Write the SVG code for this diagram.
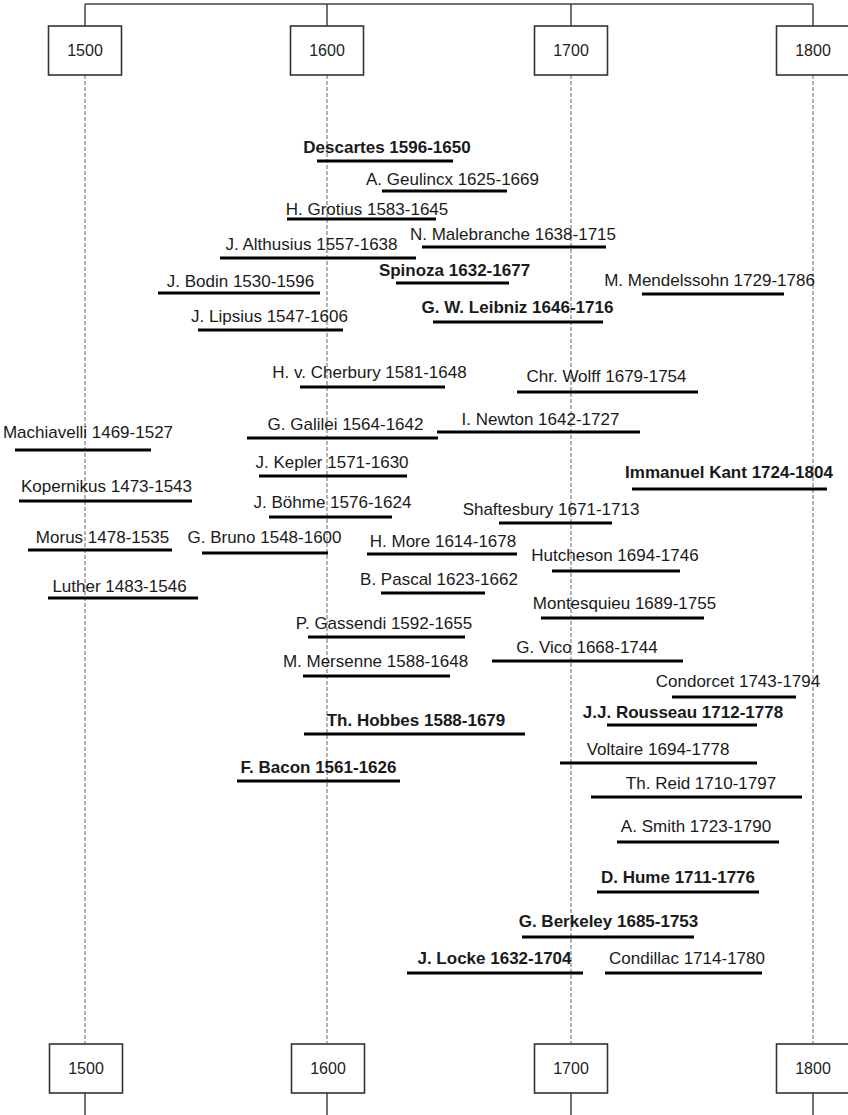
<svg xmlns="http://www.w3.org/2000/svg" width="848" height="1115" viewBox="0 0 848 1115">
<style>
.axis{stroke:#444;stroke-width:1.5;fill:none}
.dash{stroke:#666;stroke-width:1;stroke-dasharray:4,2;fill:none}
.box{fill:#fff;stroke:#333;stroke-width:1.6}
.yr{font-family:"Liberation Sans",Arial,sans-serif;font-size:16px;fill:#222;text-anchor:middle}
.bar{stroke:#000;stroke-width:3}
.lb{font-family:"Liberation Sans",Arial,sans-serif;font-size:17px;fill:#1a1a1a;text-anchor:middle}
.b{font-weight:bold}
</style>
<rect width="848" height="1115" fill="#fff"/>
<g id="connectors">
<path class="axis" d="M85,4H813M85,4V26M327,4V26M571,4V26M813,4V26"/>
<path class="dash" d="M85,75V1044M327,75V1044M571,75V1044M813,75V1044"/>
<path class="axis" d="M85,1093V1115M327,1093V1115M571,1093V1115M813,1093V1115"/>
</g>
<g id="y1500top"><rect class="box" x="48.5" y="26" width="73" height="49"/><text class="yr" x="85" y="56">1500</text></g>
<g id="y1600top"><rect class="box" x="290.5" y="26" width="73" height="49"/><text class="yr" x="327" y="56">1600</text></g>
<g id="y1700top"><rect class="box" x="534.5" y="26" width="73" height="49"/><text class="yr" x="571" y="56">1700</text></g>
<g id="y1800top"><rect class="box" x="776.5" y="26" width="73" height="49"/><text class="yr" x="813" y="56">1800</text></g>
<g id="y1500bot"><rect class="box" x="49.5" y="1044" width="73" height="49"/><text class="yr" x="86" y="1074">1500</text></g>
<g id="y1600bot"><rect class="box" x="291.5" y="1044" width="73" height="49"/><text class="yr" x="328" y="1074">1600</text></g>
<g id="y1700bot"><rect class="box" x="534.5" y="1044" width="73" height="49"/><text class="yr" x="571" y="1074">1700</text></g>
<g id="y1800bot"><rect class="box" x="776.5" y="1044" width="73" height="49"/><text class="yr" x="813" y="1074">1800</text></g>

<g id="descartes"><line class="bar" x1="317" y1="161" x2="453" y2="161"/><text class="lb b" x="387" y="153">Descartes 1596-1650</text></g>
<g id="geulincx"><line class="bar" x1="382" y1="191" x2="507" y2="191"/><text class="lb" x="452.5" y="185">A. Geulincx 1625-1669</text></g>
<g id="grotius"><line class="bar" x1="287" y1="219" x2="436" y2="219"/><text class="lb" x="367" y="215">H. Grotius 1583-1645</text></g>
<g id="malebranche"><line class="bar" x1="422" y1="247" x2="606" y2="247"/><text class="lb" x="513" y="240">N. Malebranche 1638-1715</text></g>
<g id="althusius"><line class="bar" x1="220" y1="258" x2="416" y2="258"/><text class="lb" x="311.5" y="250">J. Althusius 1557-1638</text></g>
<g id="spinoza"><line class="bar" x1="396" y1="283" x2="509" y2="283"/><text class="lb b" x="454.5" y="276">Spinoza 1632-1677</text></g>
<g id="mendelssohn"><line class="bar" x1="642" y1="294" x2="784" y2="294"/><text class="lb" x="709.5" y="286">M. Mendelssohn 1729-1786</text></g>
<g id="bodin"><line class="bar" x1="158" y1="293" x2="320" y2="293"/><text class="lb" x="240.5" y="287">J. Bodin 1530-1596</text></g>
<g id="leibniz"><line class="bar" x1="433" y1="322" x2="603" y2="322"/><text class="lb b" x="517.5" y="313">G. W. Leibniz 1646-1716</text></g>
<g id="lipsius"><line class="bar" x1="198" y1="330" x2="343" y2="330"/><text class="lb" x="269.5" y="322">J. Lipsius 1547-1606</text></g>
<g id="cherbury"><line class="bar" x1="300" y1="387" x2="445" y2="387"/><text class="lb" x="369.5" y="378">H. v. Cherbury 1581-1648</text></g>
<g id="wolff"><line class="bar" x1="517" y1="392" x2="698" y2="392"/><text class="lb" x="606.5" y="382">Chr. Wolff 1679-1754</text></g>
<g id="machiavelli"><line class="bar" x1="15" y1="450" x2="151" y2="450"/><text class="lb" x="88" y="438">Machiavelli 1469-1527</text></g>
<g id="galilei"><line class="bar" x1="247" y1="438" x2="438" y2="438"/><text class="lb" x="345.5" y="430">G. Galilei 1564-1642</text></g>
<g id="newton"><line class="bar" x1="437" y1="432" x2="640" y2="432"/><text class="lb" x="540.5" y="425">I. Newton 1642-1727</text></g>
<g id="kepler"><line class="bar" x1="259" y1="476" x2="407" y2="476"/><text class="lb" x="332" y="468">J. Kepler 1571-1630</text></g>
<g id="kant"><line class="bar" x1="632" y1="489" x2="827" y2="489"/><text class="lb b" x="729" y="478">Immanuel Kant 1724-1804</text></g>
<g id="kopernikus"><line class="bar" x1="19" y1="501" x2="192" y2="501"/><text class="lb" x="106.5" y="492">Kopernikus 1473-1543</text></g>
<g id="boehme"><line class="bar" x1="269" y1="517" x2="392" y2="517"/><text class="lb" x="332.5" y="508">J. Böhme 1576-1624</text></g>
<g id="shaftesbury"><line class="bar" x1="499" y1="523" x2="612" y2="523"/><text class="lb" x="551" y="515">Shaftesbury 1671-1713</text></g>
<g id="morus"><line class="bar" x1="28" y1="550" x2="172" y2="550"/><text class="lb" x="102.5" y="543">Morus 1478-1535</text></g>
<g id="bruno"><line class="bar" x1="202" y1="553" x2="328" y2="553"/><text class="lb" x="264.5" y="543">G. Bruno 1548-1600</text></g>
<g id="more"><line class="bar" x1="367" y1="554" x2="517" y2="554"/><text class="lb" x="443" y="547">H. More 1614-1678</text></g>
<g id="hutcheson"><line class="bar" x1="552" y1="571" x2="680" y2="571"/><text class="lb" x="615" y="561">Hutcheson 1694-1746</text></g>
<g id="luther"><line class="bar" x1="48" y1="598" x2="198" y2="598"/><text class="lb" x="119.5" y="592">Luther 1483-1546</text></g>
<g id="pascal"><line class="bar" x1="381" y1="593" x2="485" y2="593"/><text class="lb" x="439" y="585">B. Pascal 1623-1662</text></g>
<g id="montesquieu"><line class="bar" x1="541" y1="618" x2="704" y2="618"/><text class="lb" x="624.5" y="609">Montesquieu 1689-1755</text></g>
<g id="gassendi"><line class="bar" x1="308" y1="637" x2="465" y2="637"/><text class="lb" x="384" y="629">P. Gassendi 1592-1655</text></g>
<g id="vico"><line class="bar" x1="492" y1="661" x2="683" y2="661"/><text class="lb" x="587" y="653">G. Vico 1668-1744</text></g>
<g id="mersenne"><line class="bar" x1="303" y1="676" x2="450" y2="676"/><text class="lb" x="375.5" y="667">M. Mersenne 1588-1648</text></g>
<g id="condorcet"><line class="bar" x1="672" y1="697" x2="796" y2="697"/><text class="lb" x="738" y="687">Condorcet 1743-1794</text></g>
<g id="rousseau"><line class="bar" x1="607" y1="725" x2="757" y2="725"/><text class="lb b" x="683" y="718">J.J. Rousseau 1712-1778</text></g>
<g id="hobbes"><line class="bar" x1="304" y1="734" x2="525" y2="734"/><text class="lb b" x="416" y="726">Th. Hobbes 1588-1679</text></g>
<g id="voltaire"><line class="bar" x1="560" y1="763" x2="757" y2="763"/><text class="lb" x="658" y="755">Voltaire 1694-1778</text></g>
<g id="bacon"><line class="bar" x1="237" y1="781" x2="400" y2="781"/><text class="lb b" x="318.5" y="773">F. Bacon 1561-1626</text></g>
<g id="reid"><line class="bar" x1="591" y1="797" x2="802" y2="797"/><text class="lb" x="701" y="789">Th. Reid 1710-1797</text></g>
<g id="smith"><line class="bar" x1="617" y1="842" x2="779" y2="842"/><text class="lb" x="696" y="832">A. Smith 1723-1790</text></g>
<g id="hume"><line class="bar" x1="597" y1="892" x2="759" y2="892"/><text class="lb b" x="678" y="883">D. Hume 1711-1776</text></g>
<g id="berkeley"><line class="bar" x1="522" y1="937" x2="694" y2="937"/><text class="lb b" x="608.5" y="927">G. Berkeley 1685-1753</text></g>
<g id="locke"><line class="bar" x1="407" y1="973" x2="583" y2="973"/><text class="lb b" x="494.5" y="964">J. Locke 1632-1704</text></g>
<g id="condillac"><line class="bar" x1="605" y1="973" x2="762" y2="973"/><text class="lb" x="687" y="964">Condillac 1714-1780</text></g>
</svg>
